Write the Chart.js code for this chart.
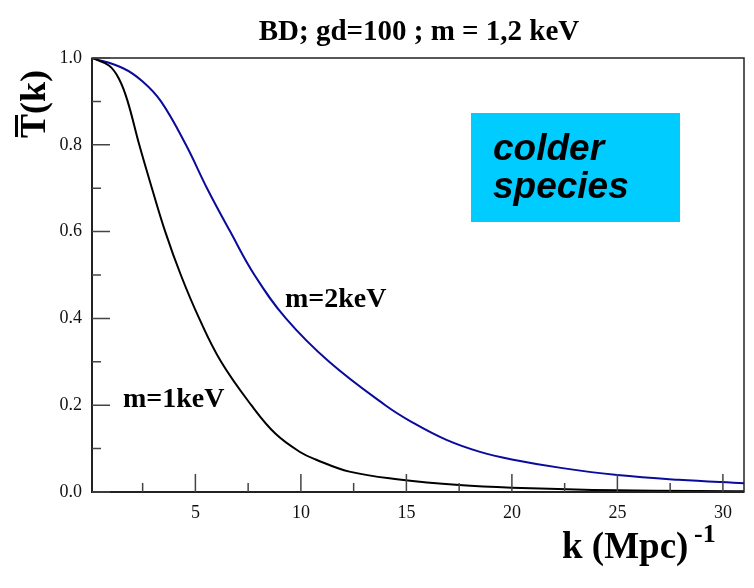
<!DOCTYPE html>
<html>
<head>
<meta charset="utf-8">
<script src="https://cdn.jsdelivr.net/npm/chart.js@4.4.1/dist/chart.umd.min.js"></script>
<style>
  html, body { margin: 0; padding: 0; background: #fff; }
  #wrap { width: 754px; height: 588px; }
</style>
</head>
<body>
<div id="wrap"><canvas id="tk" width="754" height="588"></canvas></div>
<script>
// transfer function, k in (Mpc)^-1
const k1keV = [0.1, 0.92, 1.4, 1.79, 2.34, 2.94, 3.57, 4.31, 5.18, 6.22, 7.65, 8.8, 10, 10.7, 12.3, 14.66, 17.5, 20, 25, 31];
const t1keV = [1.0, 0.982, 0.95, 0.9, 0.8, 0.7, 0.6, 0.5, 0.4, 0.3, 0.2, 0.134, 0.091, 0.075, 0.047, 0.029, 0.016, 0.01, 0.004, 0.002];

const k2keV = [0.1, 1.55, 2.5, 3.37, 4.55, 5.55, 6.65, 7.8, 9.29, 11.34, 14.0, 15.3, 16.9, 18.45, 20, 22.4, 25, 27.9, 31];
const t2keV = [1.0, 0.977, 0.946, 0.9, 0.8, 0.7, 0.6, 0.5, 0.4, 0.3, 0.2, 0.16, 0.12, 0.093, 0.075, 0.055, 0.039, 0.028, 0.02];

const xMajor = [5, 10, 15, 20, 25, 30];
const xMinor = [2.5, 7.5, 12.5, 17.5, 22.5, 27.5];
const yMajor = [0, 0.2, 0.4, 0.6, 0.8, 1.0];
const yMinor = [0.1, 0.3, 0.5, 0.7, 0.9];

function pts(ks, ts) {
  return ks.map(function (k, i) { return { x: k, y: ts[i] }; });
}

const serif = "'Liberation Serif', 'Times New Roman', serif";

// frame, inward ticks and all the free text
const decor = {
  id: "decor",
  afterDraw: function (chart) {
    const ctx = chart.ctx;
    const a = chart.chartArea;
    const xs = chart.scales.x;
    const ys = chart.scales.y;
    ctx.save();

    // frame
    ctx.strokeStyle = "#222";
    ctx.lineWidth = 1.5;
    ctx.strokeRect(a.left, a.top, a.right - a.left, a.bottom - a.top);
    ctx.lineWidth = 2;
    ctx.beginPath();
    ctx.moveTo(a.left, a.top);
    ctx.lineTo(a.left, a.bottom);
    ctx.lineTo(a.right, a.bottom);
    ctx.stroke();

    // ticks
    ctx.strokeStyle = "#444";
    ctx.lineWidth = 1.5;
    ctx.beginPath();
    yMajor.forEach(function (v) {
      const p = ys.getPixelForValue(v);
      ctx.moveTo(a.left, p); ctx.lineTo(a.left + 18, p);
    });
    yMinor.forEach(function (v) {
      const p = ys.getPixelForValue(v);
      ctx.moveTo(a.left, p); ctx.lineTo(a.left + 9, p);
    });
    xMajor.forEach(function (v) {
      const p = xs.getPixelForValue(v);
      ctx.moveTo(p, a.bottom); ctx.lineTo(p, a.bottom - 18);
    });
    xMinor.forEach(function (v) {
      const p = xs.getPixelForValue(v);
      ctx.moveTo(p, a.bottom); ctx.lineTo(p, a.bottom - 9);
    });
    ctx.stroke();

    ctx.fillStyle = "#000";
    ctx.textBaseline = "alphabetic";

    // title
    ctx.font = "bold 29px " + serif;
    ctx.textAlign = "center";
    ctx.fillText("BD; gd=100 ; m = 1,2 keV", 419, 40);

    // curve labels
    ctx.textAlign = "left";
    ctx.font = "bold 28px " + serif;
    ctx.fillText("m=2keV", 285, 307);
    ctx.fillText("m=1keV", 123, 407);

    // x axis title
    ctx.font = "bold 37px " + serif;
    ctx.fillText("k (Mpc)", 562, 558);
    ctx.font = "bold 26px " + serif;
    ctx.fillText("-1", 694, 542);

    // y axis title with the bar over T
    ctx.save();
    ctx.translate(45, 138);
    ctx.rotate(-Math.PI / 2);
    ctx.font = "bold 36px " + serif;
    ctx.fillText("T(k)", 0, 0);
    const wT = ctx.measureText("T").width;
    ctx.fillRect(1, -30, wT - 2, 3);
    ctx.restore();

    // colder species box
    ctx.fillStyle = "#00ccff";
    ctx.fillRect(471, 113, 209, 109);
    ctx.fillStyle = "#000";
    ctx.font = "italic bold 37px 'Liberation Sans', Arial, sans-serif";
    ctx.fillText("colder", 493, 160);
    ctx.fillText("species", 493, 198);

    ctx.restore();
  },
};

const ctx = document.getElementById("tk").getContext("2d");
new Chart(ctx, {
  type: "line",
  data: {
    datasets: [
      {
        label: "m=1keV",
        data: pts(k1keV, t1keV),
        borderColor: "#000000",
        borderWidth: 2,
        pointRadius: 0,
        tension: 0.4,
        fill: false,
      },
      {
        label: "m=2keV",
        data: pts(k2keV, t2keV),
        borderColor: "#0a0a9c",
        borderWidth: 2,
        pointRadius: 0,
        tension: 0.4,
        fill: false,
      },
    ],
  },
  options: {
    responsive: false,
    animation: false,
    layout: { padding: { left: 0, top: 58, right: 10, bottom: 46 } },
    plugins: {
      legend: { display: false },
      title: { display: false },
      tooltip: { enabled: false },
    },
    scales: {
      x: {
        type: "linear",
        min: 0.1,
        max: 31,
        grid: { display: false },
        border: { display: false },
        afterFit: function (s) { s.height = 50; },
        afterBuildTicks: function (s) {
          s.ticks = xMajor.map(function (v) { return { value: v }; });
        },
        ticks: {
          autoSkip: false,
          maxRotation: 0,
          padding: 2,
          color: "#111",
          font: { family: serif, size: 18 },
        },
      },
      y: {
        min: 0,
        max: 1,
        grid: { display: false },
        border: { display: false },
        afterFit: function (s) { s.width = 92; },
        afterBuildTicks: function (s) {
          s.ticks = yMajor.map(function (v) { return { value: v }; });
        },
        ticks: {
          padding: 2,
          color: "#111",
          font: { family: serif, size: 18 },
          callback: function (v) { return v.toFixed(1); },
        },
      },
    },
  },
  plugins: [decor],
});
</script>
</body>
</html>
